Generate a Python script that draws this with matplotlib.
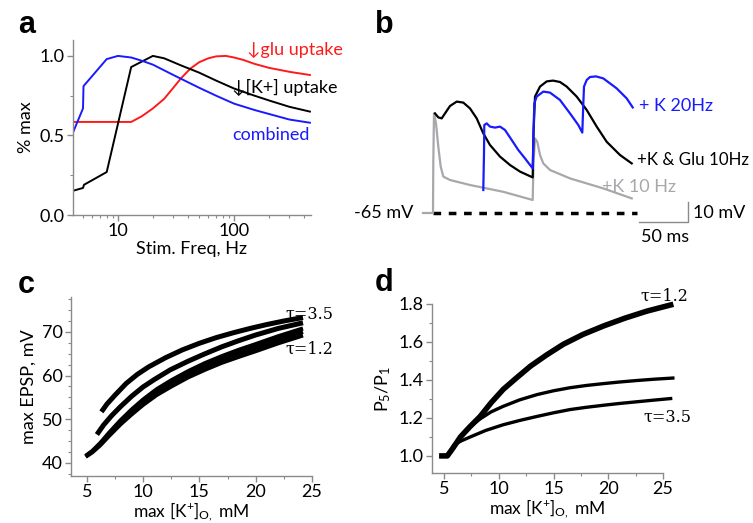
import matplotlib
matplotlib.use("Agg")
import matplotlib.pyplot as plt
from matplotlib.ticker import MultipleLocator

plt.rcParams['font.family'] = ['Lato', 'DejaVu Sans']
plt.rcParams['font.size'] = 12
plt.rcParams['mathtext.fontset'] = 'custom'
plt.rcParams['mathtext.rm'] = 'Lato'
plt.rcParams['mathtext.it'] = 'Lato'

# panel a: normalised response vs stimulation frequency
blue_f = [4, 5, 5.05, 8, 10, 13, 16, 20, 30, 50, 70, 100, 150, 200, 300, 450]
blue_v = [0.50, 0.67, 0.81, 0.98, 1.0, 0.99, 0.97, 0.945, 0.88, 0.80, 0.75, 0.70, 0.66, 0.635, 0.60, 0.58]
black_f = [4, 5, 5.1, 8, 13, 20, 25, 35, 50, 70, 100, 150, 200, 300, 450]
black_v = [0.15, 0.17, 0.19, 0.27, 0.93, 1.0, 0.985, 0.94, 0.895, 0.845, 0.795, 0.75, 0.72, 0.68, 0.65]
red_f = [4, 13, 16, 20, 25, 30, 35, 42, 50, 60, 70, 85, 100, 120, 150, 200, 300, 450]
red_v = [0.585, 0.585, 0.62, 0.67, 0.73, 0.80, 0.86, 0.92, 0.96, 0.985, 0.997, 1.0, 0.99, 0.975, 0.95, 0.925, 0.90, 0.88]

# panel b: voltage traces (ms, mV)
gray_t = [-10, 0, 0.3, 1, 3, 5.3, 7.7, 10.3, 17, 37, 70.3, 99.7, 100.5, 102, 104.3, 107, 110.3, 117, 137, 170.3, 198.7]
gray_v = [-65, -65, -40, -15.2, -20.2, -31.8, -41.8, -46.8, -48.5, -51, -54.4, -58.5, -40, -27.7, -29.4, -36, -40.2, -43.5, -47.7, -52.7, -57.7]
black_t = [2, 5.3, 8.7, 12, 17, 23.7, 30.3, 37, 43.7, 50.3, 57, 67, 77, 87, 99.7, 100.5, 102, 107, 113.7, 120, 127, 133.7, 143.7, 153.7, 163.7, 173.7, 187, 198.7]
black_mv = [-15.2, -17.2, -17.7, -15.2, -11.5, -9.3, -9.8, -12.7, -17.7, -25.2, -31, -36.8, -41, -44.3, -47.2, -25, -6.8, -1.8, 0.8, 1.2, 0.5, -1.8, -6.8, -13.5, -21.8, -29.4, -36, -40.2]
blue_t = [50.3, 51, 51.3, 53.7, 57, 62, 67, 72, 78.7, 85.3, 92, 99.7, 100.5, 101.3, 103.7, 110.3, 117, 127, 137, 145.3, 149.3, 150.2, 151, 153.7, 157, 163, 170.3, 183.7, 193.7, 199.7]
blue_mv = [-53.5, -35, -21, -20.2, -21.8, -22.3, -21.8, -23.5, -28.5, -33.5, -37.7, -42.7, -25, -10.2, -6.8, -4.3, -4.8, -8.5, -15.2, -21, -24.8, -12, -1.8, 1.5, 3.0, 3.3, 2.3, -2.7, -7.7, -12.2]

# panel c: max EPSP vs max [K+]o
c_top_k = [6.3, 6.8, 7.5, 8.5, 9.5, 10.5, 12, 13.5, 15, 16.5, 18, 19.5, 21, 22.5, 24.2]
c_top_v = [51.7, 53.5, 55.5, 58.2, 60.3, 62.0, 64.1, 65.9, 67.4, 68.7, 69.8, 70.8, 71.7, 72.5, 73.3]
c_mid_k = [5.9, 6.5, 7.2, 8, 9, 10, 11, 12.4, 14, 15.5, 17, 18.5, 20, 22, 24.2]
c_mid_v = [46.5, 48.7, 50.8, 52.9, 55.3, 57.4, 59.1, 61.3, 63.3, 65.0, 66.6, 68.0, 69.3, 70.8, 72.1]
c_low_k = [4.9, 5.5, 6.2, 7, 8, 9, 10, 11.2, 12.5, 14, 15.5, 17, 18.5, 20, 22, 24.2]
c_low1 = [41.6, 42.75, 44.55, 46.95, 49.75, 52.25, 54.5, 56.85, 58.9, 61.0, 62.85, 64.45, 65.9, 67.2, 69.0, 70.8]
c_low2 = [41.5, 42.6, 44.3, 46.6, 49.3, 51.7, 53.9, 56.2, 58.2, 60.3, 62.1, 63.7, 65.1, 66.4, 68.2, 70.0]
c_low3 = [41.4, 42.45, 44.05, 46.25, 48.85, 51.15, 53.3, 55.55, 57.5, 59.6, 61.35, 62.95, 64.3, 65.6, 67.4, 69.2]

# panel d: paired pulse ratio P5/P1
d_top_k = [4.8, 5.3, 5.8, 6.5, 7.3, 8.3, 9.3, 10.4, 11.6, 12.9, 14.4, 15.9, 17.7, 19.6, 21.5, 23.5, 25.7]
d_top_v = [1.0, 1.0, 1.04, 1.10, 1.15, 1.208, 1.28, 1.35, 1.41, 1.473, 1.533, 1.588, 1.64, 1.685, 1.725, 1.762, 1.795]
d_mid_k = [4.8, 5.3, 5.8, 6.5, 7.3, 8.3, 9.3, 10.4, 11.9, 13.5, 15, 16.5, 18, 19.6, 21, 22.6, 24.2, 25.9]
d_mid_v = [1.0, 1.0, 1.04, 1.10, 1.15, 1.195, 1.232, 1.261, 1.295, 1.323, 1.343, 1.359, 1.371, 1.381, 1.389, 1.397, 1.404, 1.41]
d_low_k = [4.8, 5.3, 5.9, 6.6, 7.4, 8.8, 10.4, 12, 13.5, 15, 16.5, 18, 19.6, 21, 22.6, 24.2, 25.7]
d_low_v = [1.0, 1.0, 1.058, 1.08, 1.10, 1.134, 1.164, 1.188, 1.208, 1.227, 1.244, 1.256, 1.267, 1.276, 1.285, 1.294, 1.302]

spine_col = '#8a8a8a'
W, H = 753, 523


def px_axes(fig, x0, y0, x1, y1):
    # pixel box (top-left origin) -> figure axes
    return fig.add_axes([x0 / W, (H - y1) / H, (x1 - x0) / W, (y1 - y0) / H])


def style(ax):
    for s in ['top', 'right']:
        ax.spines[s].set_visible(False)
    for s in ['left', 'bottom']:
        ax.spines[s].set_color(spine_col)
        ax.spines[s].set_linewidth(1.0)
    ax.tick_params(which='major', direction='out', length=4, width=1, color=spine_col, labelsize=13, pad=2)
    ax.tick_params(which='minor', direction='out', length=2.5, width=0.8, color=spine_col)


fig = plt.figure(figsize=(7.53, 5.23), dpi=100)

# ---- a ----
ax = px_axes(fig, 73, 40, 311, 215)
style(ax)
ax.plot(red_f, red_v, color='#ff1a1a', lw=1.4)
ax.plot(black_f, black_v, color='black', lw=1.4)
ax.plot(blue_f, blue_v, color='#1a1aff', lw=1.4)
ax.set_xscale('log')
ax.set_xlim(4.1, 460)
ax.set_ylim(0, 1.1)
ax.set_yticks([0, 0.5, 1.0])
ax.yaxis.set_minor_locator(MultipleLocator(0.25))
ax.set_xticks([10, 100])
ax.set_xticklabels(['10', '100'])
ax.set_xlabel('Stim. Freq, Hz', fontsize=13, labelpad=1)
ax.set_ylabel('% max', fontsize=13, labelpad=4)
ax.text(128, 1.035, '↓glu uptake', color='#ff1a1a', fontsize=13, va='center')
ax.text(96, 0.80, '↓[K+] uptake', color='black', fontsize=13, va='center')
ax.text(96, 0.505, 'combined', color='#1a1aff', fontsize=13, va='center')

# ---- b ----
bx = px_axes(fig, 340, 50, 753, 250)
bx.set_xlim(-93, 320)
bx.set_ylim(-83.5, 16.5)
bx.axis('off')
bx.plot([0, 204], [-65, -65], color='black', lw=2.5, ls=(0, (2.2, 2.2)))
bx.plot(gray_t, gray_v, color='#a8a8ac', lw=1.6)
bx.plot(black_t, black_mv, color='black', lw=1.6)
bx.plot(blue_t, blue_mv, color='#1a1aff', lw=1.6)
bx.plot([206, 255, 255], [-69.5, -69.5, -59.5], color=spine_col, lw=1.0)
bx.text(-20, -65, '-65 mV', ha='right', va='center', fontsize=13)
bx.text(260, -65, '10 mV', ha='left', va='center', fontsize=13)
bx.text(208, -77, '50 ms', ha='left', va='center', fontsize=13)
bx.text(206, -11.5, '+ K 20Hz', color='#1a1aff', ha='left', va='center', fontsize=13)
bx.text(204, -38.5, '+K & Glu 10Hz', color='black', ha='left', va='center', fontsize=12.2)
bx.text(169, -52, '+K 10 Hz', color='#a8a8ac', ha='left', va='center', fontsize=13)

# ---- c ----
cx = px_axes(fig, 71, 297, 312, 476)
style(cx)
for yv in (c_low1, c_low2, c_low3):
    cx.plot(c_low_k, yv, color='black', lw=3.0, solid_capstyle='butt')
cx.plot(c_mid_k, c_mid_v, color='black', lw=3.6, solid_capstyle='butt')
cx.plot(c_top_k, c_top_v, color='black', lw=3.6, solid_capstyle='butt')
cx.set_xlim(3.6, 25)
cx.set_ylim(37, 78)
cx.set_xticks([5, 10, 15, 20, 25])
cx.set_yticks([40, 50, 60, 70])
cx.xaxis.set_minor_locator(MultipleLocator(2.5))
cx.yaxis.set_minor_locator(MultipleLocator(2.5))
cx.set_ylabel('max EPSP, mV', fontsize=13, labelpad=4)
cx.set_xlabel('max [K$^{+}$]$_{O,}$ mM', fontsize=12.5, labelpad=0)
cx.text(22.6, 74.2, 'τ=3.5', fontsize=11.5, va='center', family=['DejaVu Serif'])
cx.text(22.6, 66.0, 'τ=1.2', fontsize=11.5, va='center', family=['DejaVu Serif'])

# ---- d ----
dx = px_axes(fig, 432, 304, 663, 473)
style(dx)
dx.plot(d_low_k, d_low_v, color='black', lw=2.4, clip_on=False)
dx.plot(d_mid_k, d_mid_v, color='black', lw=2.4, clip_on=False)
dx.plot(d_top_k, d_top_v, color='black', lw=4.0, clip_on=False)
dx.set_xlim(3.9, 25)
dx.set_ylim(0.91, 1.8)
dx.set_xticks([5, 10, 15, 20, 25])
dx.set_yticks([1.0, 1.2, 1.4, 1.6, 1.8])
dx.xaxis.set_minor_locator(MultipleLocator(2.5))
dx.yaxis.set_minor_locator(MultipleLocator(0.1))
dx.set_ylabel('P$_5$/P$_1$', fontsize=13, labelpad=4)
dx.set_xlabel('max [K$^{+}$]$_{O,}$ mM', fontsize=12.5, labelpad=0)
dx.text(22.9, 1.84, 'τ=1.2', fontsize=11.5, va='center', family=['DejaVu Serif'])
dx.text(23.2, 1.207, 'τ=3.5', fontsize=11.5, va='center', family=['DejaVu Serif'])

# panel letters
for lab, x, y in [('a', 18, 25), ('b', 375, 25), ('c', 18, 285), ('d', 375, 283)]:
    fig.text(x / W, 1 - y / H, lab, fontsize=22, fontweight='bold', family=['Liberation Sans'], va='center', ha='left')

fig.savefig('out.png', dpi=100)
